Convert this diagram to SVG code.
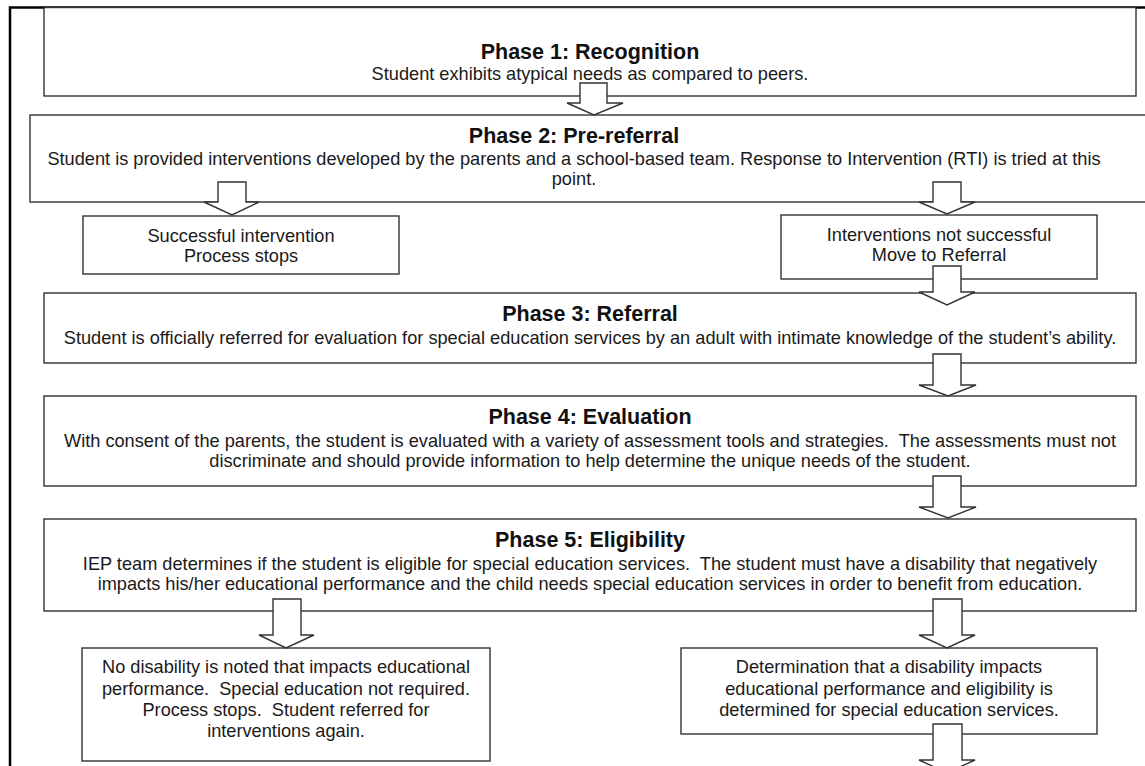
<svg xmlns="http://www.w3.org/2000/svg" width="1145" height="766" viewBox="0 0 1145 766">
<style>
.box{fill:#fff;stroke:#333;stroke-width:1.4}
.arr{fill:#fff;stroke:#333;stroke-width:1.4;stroke-linejoin:miter}
.t{font-family:"Liberation Sans",Arial,sans-serif;font-size:21.5px;font-weight:bold;fill:#111;text-anchor:middle}
.b{font-family:"Liberation Sans",Arial,sans-serif;font-size:18.2px;fill:#1a1a1a;text-anchor:middle;white-space:pre}
</style>
<rect x="0" y="0" width="1145" height="766" fill="#fff"/>
<path d="M10,770 V7.5 H1150" fill="none" stroke="#000" stroke-width="2.5"/>
<g id="phase1">
<rect class="box" x="44" y="7.5" width="1092" height="88.5"/>
<text class="t" x="590" y="59">Phase 1: Recognition</text>
<text class="b" x="590" y="80">Student exhibits atypical needs as compared to peers.</text>
</g>
<g id="phase2">
<rect class="box" x="30" y="115" width="1125" height="87"/>
<text class="t" x="574" y="143">Phase 2: Pre-referral</text>
<text class="b" x="574" y="165">Student is provided interventions developed by the parents and a school-based team. Response to Intervention (RTI) is tried at this</text>
<text class="b" x="574" y="185">point.</text>
</g>
<g id="success">
<rect class="box" x="83" y="216" width="316" height="58"/>
<text class="b" x="241" y="242">Successful intervention</text>
<text class="b" x="241" y="262">Process stops</text>
</g>
<g id="notsuccess">
<rect class="box" x="781" y="215" width="316" height="64"/>
<text class="b" x="939" y="241">Interventions not successful</text>
<text class="b" x="939" y="261">Move to Referral</text>
</g>
<g id="phase3">
<rect class="box" x="44" y="293" width="1092" height="70"/>
<text class="t" x="590" y="321">Phase 3: Referral</text>
<text class="b" x="590" y="344">Student is officially referred for evaluation for special education services by an adult with intimate knowledge of the student’s ability.</text>
</g>
<g id="phase4">
<rect class="box" x="44" y="396" width="1092" height="90"/>
<text class="t" x="590" y="424">Phase 4: Evaluation</text>
<text class="b" x="590" y="447">With consent of the parents, the student is evaluated with a variety of assessment tools and strategies.  The assessments must not</text>
<text class="b" x="590" y="467">discriminate and should provide information to help determine the unique needs of the student.</text>
</g>
<g id="phase5">
<rect class="box" x="44" y="519" width="1092" height="92"/>
<text class="t" x="590" y="547">Phase 5: Eligibility</text>
<text class="b" x="590" y="570">IEP team determines if the student is eligible for special education services.  The student must have a disability that negatively</text>
<text class="b" x="590" y="590">impacts his/her educational performance and the child needs special education services in order to benefit from education.</text>
</g>
<g id="nodisability">
<rect class="box" x="82" y="648" width="408" height="113"/>
<text class="b" x="286" y="673">No disability is noted that impacts educational</text>
<text class="b" x="286" y="695">performance.  Special education not required.</text>
<text class="b" x="286" y="716">Process stops.  Student referred for</text>
<text class="b" x="286" y="737">interventions again.</text>
</g>
<g id="determination">
<rect class="box" x="681" y="648" width="416" height="86"/>
<text class="b" x="889" y="673">Determination that a disability impacts</text>
<text class="b" x="889" y="695">educational performance and eligibility is</text>
<text class="b" x="889" y="716">determined for special education services.</text>
</g>
<g id="connectors">
<polygon class="arr" points="580,83 607,83 607,103 623,103 594,115 567,103 580,103"/>
<polygon class="arr" points="218,182 246,182 246,202 259,202 232,215 204,202 218,202"/>
<polygon class="arr" points="933,182 961,182 961,202 975,202 947,214 919,202 933,202"/>
<polygon class="arr" points="933,266 961,266 961,292 975,292 947,305 919,292 933,292"/>
<polygon class="arr" points="933,354 961,354 961,385 976,385 948,396 919,385 933,385"/>
<polygon class="arr" points="933,476 961,476 961,507 976,507 948,518 919,507 933,507"/>
<polygon class="arr" points="273,599 301,599 301,635 314,635 286,648 259,635 273,635"/>
<polygon class="arr" points="933,599 962,599 962,635 975,635 947,648 919,635 933,635"/>
<polygon class="arr" points="933,724 962,724 962,760 975,760 947,773 919,760 933,760"/>
</g>
</svg>
